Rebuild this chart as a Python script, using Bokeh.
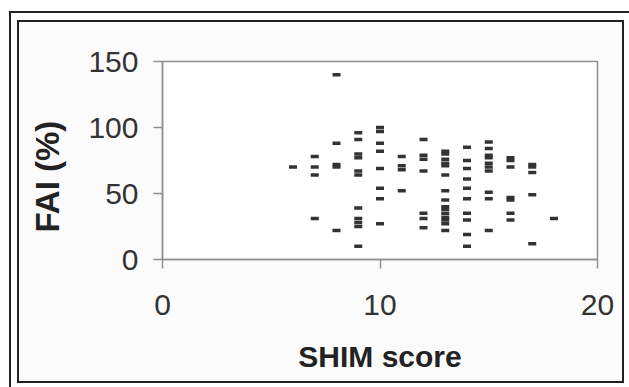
from bokeh.plotting import figure
from bokeh.models import Range1d, Title, FixedTicker, ColumnDataSource
from bokeh.embed import file_html
from bokeh.resources import INLINE

# ---- data ----
shim_scores = [6, 7, 8, 9, 10, 11, 12, 13, 14, 15, 16, 17, 18]
fai_values = [
    [70],
    [78, 70, 64, 31],
    [140, 88, 72, 70, 22],
    [96, 91, 80, 77, 67, 64, 39, 31, 28, 25, 10],
    [100, 97, 88, 82, 69, 54, 46, 27],
    [78, 71, 68, 52],
    [91, 79, 76, 67, 35, 31, 24],
    [82, 80, 76, 73, 71, 64, 52, 45, 40, 38, 35, 32, 30, 27, 22],
    [85, 75, 69, 61, 54, 46, 35, 30, 19, 10],
    [89, 84, 79, 77, 73, 70, 67, 51, 46, 22],
    [77, 75, 70, 47, 45, 35, 30],
    [72, 70, 66, 49, 12],
    [31],
]
x_ticks = [0, 10, 20]
y_ticks = [0, 50, 100, 150]
x_title = "SHIM score"
y_title = "FAI (%)"

xs, ys = [], []
for s, vals in zip(shim_scores, fai_values):
    xs += [s] * len(vals)
    ys += vals
src = ColumnDataSource(data=dict(x=xs, y=ys))

W, H = 629, 387
p = figure(width=W, height=H, output_backend="svg", toolbar_location=None,
           x_range=Range1d(0, 20), y_range=Range1d(0, 150),
           min_border_left=162, min_border_right=32,
           min_border_top=61, min_border_bottom=128)
p.background_fill_color = "white"
p.border_fill_alpha = 0
p.outline_line_color = "#909090"
p.outline_line_width = 1.5
p.grid.visible = False

# double frame around the whole chart (page decoration)
p.styles = {
    "background-color": "#fbfbfb",
    "box-shadow": ("inset 9px 11px 0 0 #ffffff, inset 11px 13px 0 0 #222222, "
                   "inset 17px 20px 0 0 #ffffff, inset -5px -4px 0 0 #ffffff, "
                   "inset 19px 22px 0 0 #222222, inset -7px -6px 0 0 #222222"),
}

p.rect(x="x", y="y", width=8, height=3.5, width_units="screen", height_units="screen",
       source=src, fill_color="#333333", line_color=None)

FONT = "Liberation Sans"
for ax in (p.xaxis[0], p.yaxis[0]):
    ax.axis_line_color = "#909090"
    ax.axis_line_width = 1.5
    ax.major_tick_line_color = "#909090"
    ax.major_tick_line_width = 1.5
    ax.major_tick_out = 9
    ax.major_tick_in = 0
    ax.minor_tick_out = 0
    ax.minor_tick_in = 0
    ax.major_label_text_font = FONT
    ax.major_label_text_font_size = "30px"
    ax.major_label_text_color = "#333333"

p.xaxis.ticker = FixedTicker(ticks=x_ticks)
p.yaxis.ticker = FixedTicker(ticks=y_ticks)
p.xaxis.major_label_standoff = 26
p.yaxis.major_label_standoff = 15

p.xaxis.axis_label = x_title
p.xaxis.axis_label_text_font = FONT
p.xaxis.axis_label_text_font_size = "30px"
p.xaxis.axis_label_text_font_style = "bold"
p.xaxis.axis_label_text_color = "#222222"
p.xaxis.axis_label_standoff = 22

ytitle = Title(text=y_title, align="left", offset=27, standoff=39,
               text_font=FONT, text_font_size="33px", text_font_style="bold",
               text_color="#222222")
p.add_layout(ytitle, "left")

open("out.html", "w").write(file_html(p, INLINE))
